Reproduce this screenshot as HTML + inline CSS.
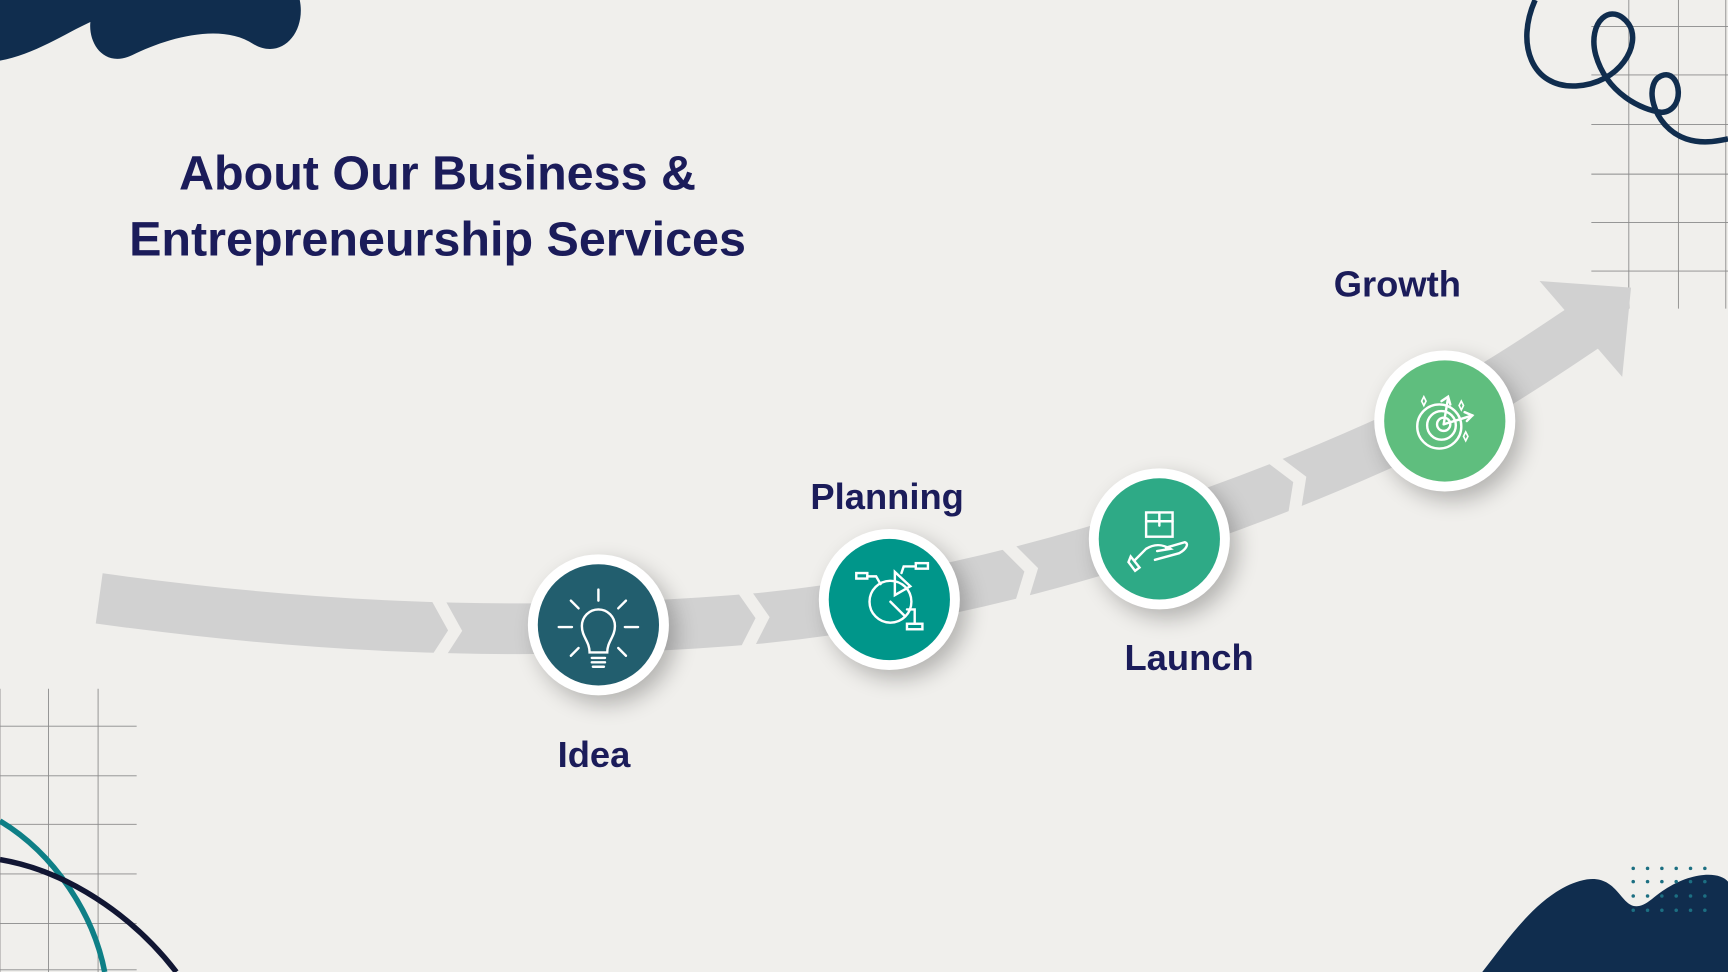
<!DOCTYPE html>
<html><head><meta charset="utf-8"><style>
html,body{margin:0;padding:0;background:#f0efec;}
svg{display:block}
text{font-family:"Liberation Sans",Arial,sans-serif;font-weight:bold;fill:#1b1c5a}
</style></head><body>
<svg width="1728" height="972" viewBox="0 0 1568 882" xmlns="http://www.w3.org/2000/svg">
<defs>
<filter id="sh" x="-50%" y="-50%" width="200%" height="200%"><feGaussianBlur stdDeviation="10"/></filter>
</defs>
<rect width="1568" height="882" fill="#f0efec"/>
<!-- top-left blob -->
<path d="M0,0 L272,0 C278,30 255,55 230,40 C200,20 150,35 120,50 C95,62 80,40 82,20 C60,30 30,50 0,55 Z" fill="#102d4e"/>
<!-- top right grid -->
<g stroke="#8a8a8a" stroke-width="0.8" fill="none">
<line x1="1478" y1="0" x2="1478" y2="280"/><line x1="1523" y1="0" x2="1523" y2="280"/><line x1="1566" y1="0" x2="1566" y2="280"/>
<line x1="1444" y1="24" x2="1568" y2="24"/><line x1="1444" y1="68" x2="1568" y2="68"/><line x1="1444" y1="113" x2="1568" y2="113"/><line x1="1444" y1="158" x2="1568" y2="158"/><line x1="1444" y1="202" x2="1568" y2="202"/><line x1="1444" y1="246" x2="1568" y2="246"/>
</g>
<!-- swirl -->
<path d="M1393,0 C1375,40 1390,80 1430,78 C1470,76 1490,40 1478,22 C1462,0 1440,20 1448,50 C1458,85 1490,100 1508,102 C1530,100 1525,65 1510,68 C1490,72 1498,115 1530,126 C1545,131 1558,128 1568,126" fill="none" stroke="#102d4e" stroke-width="5"/>
<!-- bottom-left grid -->
<g stroke="#8a8a8a" stroke-width="0.8" fill="none">
<line x1="0" y1="625" x2="0" y2="882"/><line x1="44" y1="625" x2="44" y2="882"/><line x1="89" y1="625" x2="89" y2="882"/>
<line x1="0" y1="659" x2="124" y2="659"/><line x1="0" y1="704" x2="124" y2="704"/><line x1="0" y1="748" x2="124" y2="748"/><line x1="0" y1="793" x2="124" y2="793"/><line x1="0" y1="838" x2="124" y2="838"/><line x1="0" y1="880" x2="124" y2="880"/>
</g>
<path d="M0,745 C50,775 85,830 95,882" fill="none" stroke="#0e7f86" stroke-width="5"/>
<path d="M0,780 C60,790 120,830 160,882" fill="none" stroke="#111633" stroke-width="5"/>
<!-- bottom-right blob -->
<path d="M1345,882 C1370,850 1400,805 1440,798 C1475,793 1470,840 1500,815 C1530,790 1560,790 1568,800 L1568,882 Z" fill="#102d4e"/>
<g fill="#1c6f82">
<circle cx="1482" cy="788" r="1.6"/><circle cx="1495" cy="788" r="1.6"/><circle cx="1508" cy="788" r="1.6"/><circle cx="1521" cy="788" r="1.6"/><circle cx="1534" cy="788" r="1.6"/><circle cx="1547" cy="788" r="1.6"/>
<circle cx="1482" cy="800" r="1.6"/><circle cx="1495" cy="800" r="1.6"/><circle cx="1508" cy="800" r="1.6"/><circle cx="1521" cy="800" r="1.6"/><circle cx="1534" cy="800" r="1.6"/><circle cx="1547" cy="800" r="1.6"/>
<circle cx="1482" cy="813" r="1.6"/><circle cx="1495" cy="813" r="1.6"/><circle cx="1508" cy="813" r="1.6"/><circle cx="1521" cy="813" r="1.6"/><circle cx="1534" cy="813" r="1.6"/><circle cx="1547" cy="813" r="1.6"/>
<circle cx="1482" cy="826" r="1.6"/><circle cx="1495" cy="826" r="1.6"/><circle cx="1508" cy="826" r="1.6"/><circle cx="1521" cy="826" r="1.6"/><circle cx="1534" cy="826" r="1.6"/><circle cx="1547" cy="826" r="1.6"/>
</g>
<!-- title -->
<text x="397" y="172" font-size="44" text-anchor="middle">About Our Business &amp;</text>
<text x="397" y="232" font-size="44" text-anchor="middle">Entrepreneurship Services</text>
<!-- arrow band -->
<path d="M90,543 C250,565 450,582 690,561 C900,540 1100,472 1250,405 C1340,365 1400,322 1445,292" fill="none" stroke="#d1d1d1" stroke-width="46"/>
<polygon points="1397,255 1480,261 1472,342" fill="#d1d1d1"/>
<g fill="none" stroke="#f0efec" stroke-width="11" stroke-linejoin="miter">
<polyline transform="translate(405,572) rotate(2)" points="-10,-30 8,0 -10,30"/>
<polyline transform="translate(684,561) rotate(-4)" points="-10,-30 8,0 -10,30"/>
<polyline transform="translate(928,519) rotate(-14)" points="-10,-30 8,0 -10,30"/>
<polyline transform="translate(1172,438) rotate(-22)" points="-10,-30 8,0 -10,30"/>
</g>
<!-- circles -->
<g>
<circle cx="550" cy="575" r="64" fill="#000" opacity="0.25" filter="url(#sh)"/>
<circle cx="543" cy="567" r="64" fill="#fff"/><circle cx="543" cy="567" r="55" fill="#225e6e"/>
<circle cx="814" cy="552" r="64" fill="#000" opacity="0.25" filter="url(#sh)"/>
<circle cx="807" cy="544" r="64" fill="#fff"/><circle cx="807" cy="544" r="55" fill="#00968a"/>
<circle cx="1059" cy="497" r="64" fill="#000" opacity="0.25" filter="url(#sh)"/>
<circle cx="1052" cy="489" r="64" fill="#fff"/><circle cx="1052" cy="489" r="55" fill="#2eaa86"/>
<circle cx="1318" cy="390" r="64" fill="#000" opacity="0.25" filter="url(#sh)"/>
<circle cx="1311" cy="382" r="64" fill="#fff"/><circle cx="1311" cy="382" r="55" fill="#5fbe7e"/>
</g>
<!-- icons -->
<g fill="none" stroke="#fff" stroke-width="2.2" stroke-linecap="round">
<path d="M535,592 C535,582 528,578 528,568 A15,15 0 1 1 558,568 C558,578 551,582 551,592 Z"/>
<line x1="537" y1="597" x2="549" y2="597"/><line x1="537" y1="601" x2="549" y2="601"/><line x1="538" y1="605" x2="548" y2="605"/>
<line x1="543" y1="535" x2="543" y2="545"/><line x1="507" y1="569" x2="519" y2="569"/><line x1="567" y1="569" x2="579" y2="569"/>
<line x1="518" y1="545" x2="525" y2="552"/><line x1="568" y1="545" x2="561" y2="552"/><line x1="518" y1="595" x2="525" y2="588"/><line x1="568" y1="595" x2="561" y2="588"/>
<circle cx="808" cy="546" r="19"/><path d="M812,540 L812,519 L826,532 Z"/><path d="M808,546 L821,559"/>
<rect x="777" y="520" width="10" height="5"/><rect x="831" y="511" width="11" height="5"/><rect x="823" y="566" width="14" height="5"/>
<path d="M787,523 L795,523 L799,530"/><path d="M831,514 L820,514 L818,520"/><path d="M830,566 L830,553 L823,553"/>
<rect x="1040" y="465" width="24" height="22"/><line x1="1040" y1="473" x2="1064" y2="473"/><line x1="1052" y1="465" x2="1052" y2="477"/>
<path d="M1030,508 L1040,498 C1048,493 1055,494 1062,498 L1050,500 M1048,508 L1070,502 C1077,498 1079,493 1075,492 L1058,497"/>
<path d="M1026,505 L1034,515 L1030,518 L1024,510 Z"/>
<circle cx="1306" cy="387" r="20"/><circle cx="1308" cy="386" r="13"/><circle cx="1310" cy="385" r="6"/>
<path d="M1310,385 L1314,361"/><path d="M1310,385 L1336,377"/>
<path d="M1308,364 L1314,360 L1316,367"/><path d="M1329,374 L1336,377 L1331,382"/>
<path d="M1292,360 l2,4 l-2,4 l-2,-4 z M1326,364 l2,4 l-2,4 l-2,-4 z M1330,392 l2,4 l-2,4 l-2,-4 z" stroke-width="1.5"/>
</g>
<!-- labels -->
<text x="539" y="696" font-size="33" text-anchor="middle">Idea</text>
<text x="805" y="462" font-size="33" text-anchor="middle">Planning</text>
<text x="1079" y="608" font-size="33" text-anchor="middle">Launch</text>
<text x="1268" y="269" font-size="33" text-anchor="middle">Growth</text>
</svg>
</body></html>
